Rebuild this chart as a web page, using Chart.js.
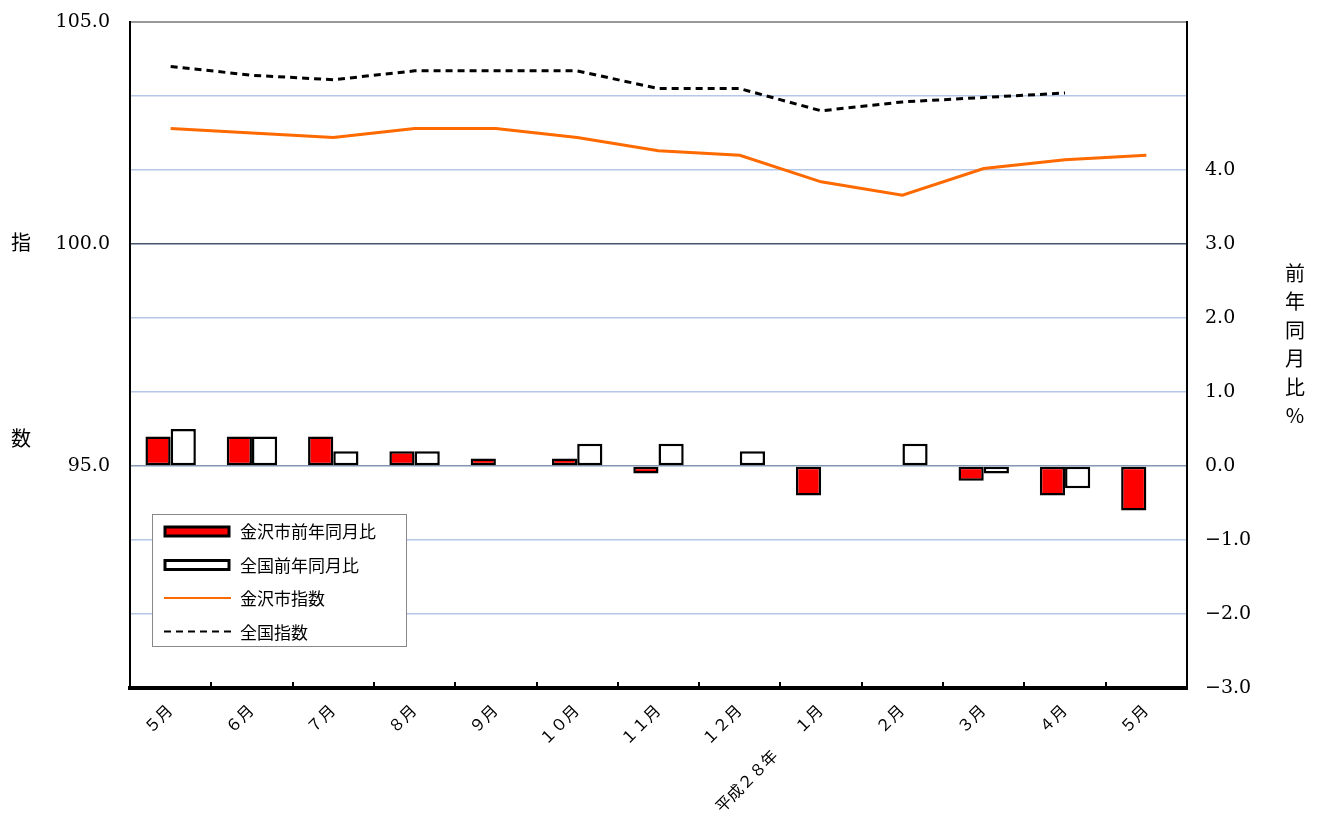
<!DOCTYPE html>
<html><head><meta charset="utf-8">
<script src="https://cdn.jsdelivr.net/npm/chart.js@4/dist/chart.umd.min.js"></script>
<style>html,body{margin:0;padding:0;background:#fff;}#wrap{width:1317px;height:826px;}</style>
</head><body><div id="wrap"><canvas id="c" width="1317" height="826"></canvas></div>
<script>
const categories = ['５月','６月','７月','８月','９月','１０月','１１月','１２月','平成２８年　　１月','２月','３月','４月','５月'];
const kanazawaYoY = [0.4, 0.4, 0.4, 0.2, 0.1, 0.1, -0.1, 0.0, -0.4, 0.0, -0.2, -0.4, -0.6];
const nationalYoY = [0.5, 0.4, 0.2, 0.2, 0.0, 0.3, 0.3, 0.2, 0.0, 0.3, -0.1, -0.3, null];
const kanazawaIndex = [102.6, 102.5, 102.4, 102.6, 102.6, 102.4, 102.1, 102.0, 101.4, 101.1, 101.7, 101.9, 102.0];
const nationalIndex = [104.0, 103.8, 103.7, 103.9, 103.9, 103.9, 103.5, 103.5, 103.0, 103.2, 103.3, 103.4, null];
const leftTicks = [95, 100, 105];

const serif = "'DejaVu Serif','Noto Sans CJK JP',serif";
const sans = "'Noto Sans CJK JP','Noto Sans',sans-serif";

const textPlugin = {
  id: 'extraText',
  afterDraw(chart) {
    const ctx = chart.ctx;
    const ca = chart.chartArea;
    ctx.save();
    ctx.strokeStyle = '#000';
    ctx.lineWidth = 2;
    const n = chart.data.labels.length;
    for (let i = 1; i < n; i++) {
      const x = Math.round(ca.left + i * (ca.right - ca.left) / n);
      ctx.beginPath();
      ctx.moveTo(x, ca.bottom);
      ctx.lineTo(x, ca.bottom - 6);
      ctx.stroke();
    }
    ctx.fillStyle = '#000';
    ctx.font = "20px " + sans;
    ctx.textAlign = 'center';
    ctx.textBaseline = 'middle';
    ctx.fillText('指', 21, 242);
    ctx.fillText('数', 21, 438);
    const rt = ['前','年','同','月','比','%'];
    rt.forEach((ch, i) => ctx.fillText(ch, 1295, 273 + i * 28.5));
    const bx = 152, by = 514, bw = 254, bh = 132;
    ctx.fillStyle = '#fff';
    ctx.fillRect(bx, by, bw, bh);
    ctx.strokeStyle = '#888';
    ctx.lineWidth = 1;
    ctx.strokeRect(bx + 0.5, by + 0.5, bw, bh);
    ctx.font = "17px " + sans;
    ctx.textAlign = 'left';
    [0, 1, 2, 3].forEach((di, i) => {
      const ds = chart.data.datasets[di];
      const y = by + 17 + i * 33.5;
      if (ds.type === 'bar') {
        ctx.fillStyle = ds.backgroundColor;
        ctx.fillRect(165, y - 4, 64, 9);
        ctx.strokeStyle = '#000';
        ctx.lineWidth = 3;
        ctx.strokeRect(165, y - 4, 64, 9);
      } else {
        ctx.strokeStyle = ds.borderColor;
        ctx.lineWidth = 2;
        ctx.setLineDash(ds.borderDash || []);
        ctx.beginPath();
        ctx.moveTo(164, y);
        ctx.lineTo(231, y);
        ctx.stroke();
        ctx.setLineDash([]);
      }
      ctx.fillStyle = '#000';
      ctx.fillText(ds.label, 240, y + 1);
    });
    ctx.restore();
  }
};

new Chart(document.getElementById('c'), {
  data: {
    labels: categories,
    datasets: [
      { type: 'bar', label: '金沢市前年同月比', data: kanazawaYoY, yAxisID: 'y1',
        backgroundColor: '#ff0000', borderColor: '#000', borderWidth: 2.5, borderSkipped: false,
        categoryPercentage: 0.62, barPercentage: 1.0, order: 3 },
      { type: 'bar', label: '全国前年同月比', data: nationalYoY, yAxisID: 'y1',
        backgroundColor: '#ffffff', borderColor: '#000', borderWidth: 2.5, borderSkipped: false,
        categoryPercentage: 0.62, barPercentage: 1.0, order: 3 },
      { type: 'line', label: '金沢市指数', data: kanazawaIndex, yAxisID: 'y',
        borderColor: '#ff6a00', borderWidth: 3, pointRadius: 0, tension: 0, order: 1, spanGaps: false },
      { type: 'line', label: '全国指数', data: nationalIndex, yAxisID: 'y',
        borderColor: '#000', borderWidth: 3, borderDash: [7, 5], pointRadius: 0, tension: 0, order: 0, spanGaps: false }
    ]
  },
  options: {
    responsive: false,
    animation: false,
    layout: { padding: { top: 22, right: 0, bottom: 0, left: 0 } },
    plugins: { legend: { display: false }, tooltip: { enabled: false } },
    scales: {
      x: {
        offset: true,
        grid: { display: true, drawOnChartArea: false, drawTicks: false },
        border: { color: '#000', width: 4 },
        ticks: { font: { family: serif, size: 16 }, color: '#000', minRotation: 45, maxRotation: 45, padding: 14, autoSkip: false },
        afterFit(s) { s.height = 138; s.paddingLeft = 0; s.paddingRight = 0; }
      },
      y: {
        position: 'left', min: 90, max: 105,
        afterBuildTicks(s) { s.ticks = leftTicks.map(v => ({ value: v })); },
        grid: { drawOnChartArea: false, drawTicks: false },
        border: { color: '#000', width: 2 },
        ticks: { font: { family: serif, size: 19 }, color: '#000', padding: 20,
                 callback: v => v.toFixed(1) },
        afterFit(s) { s.width = 130; s.paddingTop = 0; s.paddingBottom = 0; }
      },
      y1: {
        position: 'right', min: -3, max: 6,
        ticks: { stepSize: 1, font: { family: serif, size: 19 }, color: '#000', padding: 18,
                 callback: v => v > 4.5 ? '' : v.toFixed(1).replace('-', '−') },
        grid: {
          drawTicks: false,
          color: c => { const v = c.tick && c.tick.value; if (v === 6) return '#999999'; if (v === 3) return '#44546a'; if (v === 0) return '#8496b0'; if (v === -3) return 'rgba(0,0,0,0)'; return '#b4c7e7'; },
          lineWidth: c => (c.tick && c.tick.value === 6) ? 2 : 1.5
        },
        border: { color: '#000', width: 2 },
        afterFit(s) { s.width = 130; s.paddingTop = 0; s.paddingBottom = 0; }
      }
    }
  },
  plugins: [textPlugin]
});
</script></body></html>
